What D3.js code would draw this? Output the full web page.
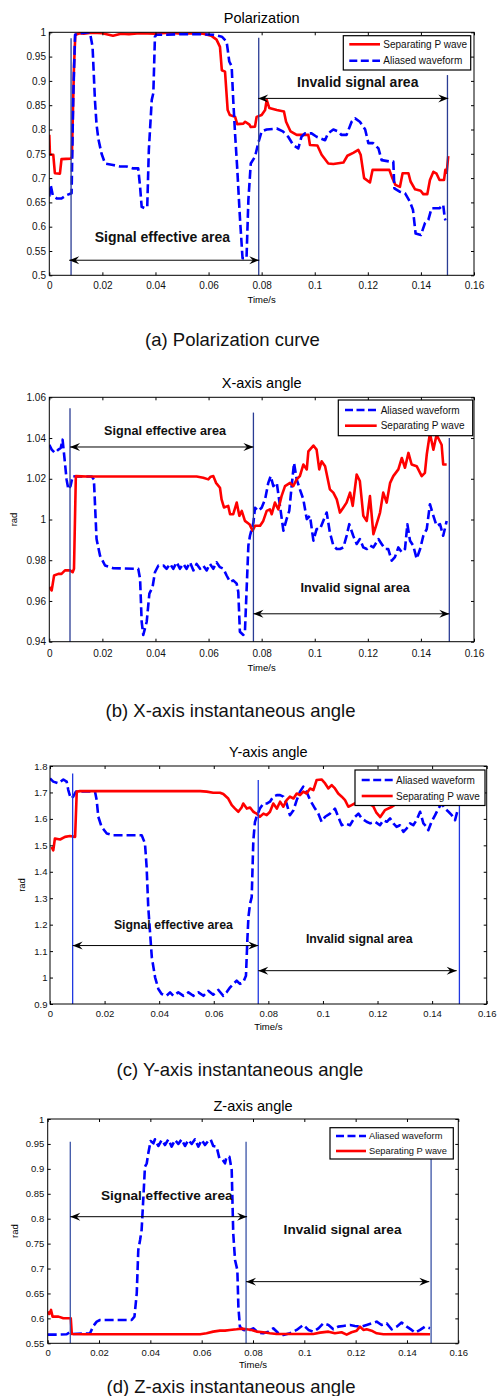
<!DOCTYPE html>
<html>
<head>
<meta charset="utf-8">
<script src="https://cdn.jsdelivr.net/npm/d3@7"></script>
<style>
  body { margin: 0; background: #fff; }
  svg { display: block; font-family: "Liberation Sans", Arial, sans-serif; }
</style>
</head>
<body>
<svg id="chart"></svg>
<script>
// shared tick values
const timeTicks = [0, 0.02, 0.04, 0.06, 0.08, 0.1, 0.12, 0.14, 0.16];
const polTicks = [0.5, 0.55, 0.6, 0.65, 0.7, 0.75, 0.8, 0.85, 0.9, 0.95, 1];
const xAngleTicks = [0.94, 0.96, 0.98, 1, 1.02, 1.04, 1.06];
const yAngleTicks = [0.9, 1, 1.1, 1.2, 1.3, 1.4, 1.5, 1.6, 1.7, 1.8];
const zAngleTicks = [0.55, 0.6, 0.65, 0.7, 0.75, 0.8, 0.85, 0.9, 0.95, 1];

const seriesNames = ["Separating P wave", "Aliased waveform"];

// (a) polarization, [time, value]
const polSeparating = [[0,0.789],[0.00025,0.748],[0.0015,0.748],[0.0021,0.71],[0.004,0.709],[0.0046,0.739],[0.008,0.74],[0.0085,0.744],[0.0093,0.929],[0.0098,0.995],[0.0116,0.998],[0.013,0.997],[0.016,0.999],[0.02,0.998],[0.024,0.993],[0.027,0.997],[0.03,0.996],[0.034,0.998],[0.04,0.997],[0.045,0.999],[0.05,0.997],[0.055,0.998],[0.058,0.997],[0.061,0.993],[0.063,0.985],[0.0643,0.97],[0.065,0.922],[0.0662,0.919],[0.0672,0.84],[0.068,0.83],[0.07,0.826],[0.0708,0.811],[0.0731,0.812],[0.0738,0.816],[0.0754,0.81],[0.0759,0.805],[0.0775,0.806],[0.0781,0.826],[0.08,0.83],[0.0813,0.84],[0.0819,0.861],[0.0829,0.844],[0.0857,0.84],[0.0884,0.837],[0.0892,0.816],[0.0909,0.796],[0.0932,0.789],[0.0976,0.789],[0.0982,0.768],[0.101,0.767],[0.1026,0.748],[0.1051,0.73],[0.107,0.729],[0.1108,0.732],[0.1123,0.746],[0.1145,0.752],[0.1164,0.758],[0.1173,0.748],[0.1186,0.70],[0.1208,0.691],[0.1218,0.717],[0.1281,0.717],[0.1291,0.702],[0.1304,0.686],[0.1321,0.682],[0.1331,0.71],[0.1353,0.71],[0.1361,0.693],[0.1378,0.677],[0.1399,0.674],[0.1409,0.667],[0.1424,0.667],[0.1434,0.696],[0.1447,0.713],[0.1459,0.709],[0.147,0.696],[0.1487,0.696],[0.1492,0.717],[0.1497,0.711],[0.1503,0.745]];
const polAliased = [[0,0.662],[0.0005,0.686],[0.0013,0.665],[0.0028,0.658],[0.0046,0.658],[0.0065,0.665],[0.0084,0.669],[0.009,0.86],[0.0097,0.995],[0.0116,0.998],[0.0153,1.0],[0.0163,0.97],[0.0172,0.86],[0.0178,0.81],[0.0185,0.78],[0.0197,0.75],[0.021,0.73],[0.024,0.727],[0.0266,0.724],[0.029,0.724],[0.0316,0.72],[0.0335,0.72],[0.0342,0.682],[0.0348,0.641],[0.036,0.638],[0.0369,0.641],[0.0375,0.758],[0.0386,0.861],[0.0392,0.875],[0.0398,0.991],[0.0404,0.995],[0.0442,0.995],[0.0492,0.996],[0.0568,0.996],[0.0618,0.995],[0.065,0.991],[0.0668,0.981],[0.0678,0.94],[0.0687,0.93],[0.0693,0.86],[0.07,0.79],[0.0708,0.72],[0.0718,0.62],[0.0728,0.535],[0.0743,0.535],[0.075,0.655],[0.0759,0.73],[0.0775,0.744],[0.0787,0.772],[0.08,0.796],[0.0819,0.8],[0.0857,0.802],[0.088,0.796],[0.09,0.785],[0.0919,0.768],[0.0938,0.761],[0.095,0.785],[0.0963,0.792],[0.0988,0.792],[0.1007,0.785],[0.1039,0.778],[0.105,0.792],[0.107,0.8],[0.1089,0.796],[0.11,0.789],[0.112,0.789],[0.1139,0.816],[0.1152,0.823],[0.117,0.816],[0.119,0.8],[0.1202,0.772],[0.122,0.772],[0.124,0.761],[0.1252,0.737],[0.1284,0.734],[0.1296,0.734],[0.13,0.679],[0.132,0.672],[0.134,0.669],[0.1358,0.652],[0.137,0.635],[0.138,0.586],[0.14,0.583],[0.1415,0.607],[0.1428,0.614],[0.144,0.638],[0.147,0.638],[0.1484,0.645],[0.149,0.617],[0.1493,0.613]];

// (b) X-axis angle
const xSeparating = [[0,0.9668],[0.0009,0.9652],[0.0018,0.9725],[0.0034,0.9733],[0.0046,0.9733],[0.0059,0.975],[0.0078,0.975],[0.0088,0.9741],[0.0093,0.9758],[0.01,1.0213],[0.0141,1.0211],[0.0555,1.0211],[0.058,1.0205],[0.0599,1.0197],[0.0608,1.021],[0.0618,1.0213],[0.0628,1.018],[0.0643,1.0156],[0.0649,1.0099],[0.0658,1.0059],[0.0674,1.0067],[0.0681,1.0026],[0.0693,1.0026],[0.0706,1.0083],[0.0716,1.0018],[0.0725,1.0042],[0.0737,0.9993],[0.0754,0.9977],[0.0766,0.9945],[0.0775,0.9969],[0.0794,0.9969],[0.0806,0.9993],[0.0819,1.0042],[0.0831,1.005],[0.0838,1.0026],[0.085,1.0083],[0.0863,1.005],[0.0875,1.0115],[0.0888,1.0164],[0.0907,1.018],[0.0919,1.0164],[0.0932,1.0197],[0.0944,1.0213],[0.0957,1.027],[0.097,1.0246],[0.0976,1.0335],[0.0995,1.0363],[0.1007,1.0343],[0.1017,1.0246],[0.1026,1.0286],[0.1039,1.0262],[0.1057,1.0148],[0.107,1.0132],[0.1083,1.0099],[0.1095,1.0034],[0.1108,1.0059],[0.112,1.0083],[0.1133,1.0132],[0.1143,1.0067],[0.1158,1.0221],[0.117,1.0189],[0.1183,1.0018],[0.1196,0.9993],[0.1208,1.0115],[0.1221,0.9928],[0.1233,0.9977],[0.1246,1.0034],[0.1258,1.0132],[0.1271,1.0083],[0.1284,1.018],[0.1296,1.0213],[0.1315,1.0246],[0.1328,1.0302],[0.134,1.0254],[0.1353,1.0327],[0.1365,1.027],[0.1384,1.0262],[0.1403,1.0213],[0.1415,1.0229],[0.1422,1.0319],[0.1434,1.0424],[0.1447,1.0343],[0.1459,1.0416],[0.1478,1.0367],[0.1484,1.027],[0.1497,1.027]];
const xAliased = [[0,1.0367],[0.0009,1.0343],[0.0021,1.0327],[0.0034,1.0343],[0.0043,1.0351],[0.005,1.0392],[0.0059,1.0278],[0.0065,1.0197],[0.0072,1.0148],[0.008,1.0164],[0.0088,1.0213],[0.0103,1.0211],[0.016,1.0211],[0.0168,1.0197],[0.0178,0.9904],[0.0191,0.9823],[0.021,0.9774],[0.0241,0.9761],[0.0335,0.9758],[0.0342,0.9709],[0.0348,0.9498],[0.0354,0.9433],[0.0367,0.9498],[0.0377,0.9636],[0.0389,0.9668],[0.0398,0.9741],[0.0411,0.9774],[0.043,0.9774],[0.0442,0.9758],[0.0455,0.9782],[0.0467,0.9758],[0.048,0.979],[0.0492,0.9758],[0.0505,0.9782],[0.0517,0.9758],[0.053,0.979],[0.0543,0.975],[0.0555,0.9782],[0.0568,0.9758],[0.058,0.9774],[0.0593,0.975],[0.0605,0.9782],[0.0618,0.9758],[0.063,0.979],[0.0643,0.9766],[0.0656,0.9758],[0.0668,0.9725],[0.0681,0.9693],[0.0693,0.9701],[0.0706,0.9685],[0.0712,0.9644],[0.0718,0.9449],[0.0731,0.9433],[0.0737,0.9449],[0.075,0.9872],[0.0756,0.992],[0.0769,0.9985],[0.0775,1.0058],[0.0787,1.0042],[0.08,1.0058],[0.0813,1.0099],[0.0825,1.018],[0.0834,1.0213],[0.0844,1.0164],[0.0857,1.018],[0.0869,1.0067],[0.0882,0.9945],[0.0894,1.0002],[0.0904,1.0042],[0.0913,1.0164],[0.0922,1.0278],[0.0932,1.0197],[0.0944,1.0148],[0.0957,1.0099],[0.097,1.0002],[0.0982,1.0018],[0.0995,0.9896],[0.1007,0.9953],[0.102,0.9953],[0.1032,0.9993],[0.1045,1.0034],[0.1057,0.9937],[0.107,0.9872],[0.1083,0.9855],[0.1095,0.9855],[0.1108,0.9863],[0.112,0.992],[0.113,0.9977],[0.1145,0.992],[0.1158,0.988],[0.117,0.9904],[0.1183,0.9863],[0.1196,0.9855],[0.1208,0.9872],[0.1221,0.9863],[0.124,0.9904],[0.1252,0.988],[0.1265,0.9855],[0.1277,0.9855],[0.129,0.9798],[0.1302,0.9815],[0.1315,0.9863],[0.1328,0.9839],[0.134,0.9855],[0.1349,0.9977],[0.1359,0.9896],[0.1371,0.9872],[0.1384,0.9807],[0.1397,0.9855],[0.1409,0.992],[0.1422,0.9953],[0.1434,1.0075],[0.1447,1.0018],[0.1459,0.9969],[0.1472,0.9977],[0.1484,0.992],[0.1497,0.9993]];

// (c) Y-axis angle
const ySeparating = [[0.0006,1.494],[0.0012,1.481],[0.0018,1.526],[0.0037,1.522],[0.0055,1.532],[0.0073,1.535],[0.0092,1.532],[0.0098,1.703],[0.011,1.705],[0.055,1.705],[0.0574,1.703],[0.0598,1.699],[0.0623,1.699],[0.0635,1.694],[0.0653,1.677],[0.0666,1.652],[0.0678,1.639],[0.069,1.627],[0.0702,1.643],[0.0708,1.658],[0.0721,1.639],[0.0733,1.643],[0.0745,1.627],[0.0757,1.62],[0.0769,1.608],[0.0782,1.62],[0.0794,1.614],[0.0806,1.627],[0.0818,1.658],[0.0831,1.639],[0.0843,1.665],[0.0855,1.646],[0.0867,1.671],[0.0879,1.684],[0.0892,1.677],[0.0904,1.696],[0.0916,1.69],[0.0928,1.703],[0.094,1.696],[0.0953,1.715],[0.0965,1.709],[0.0977,1.747],[0.0995,1.749],[0.1008,1.734],[0.102,1.715],[0.1032,1.728],[0.1044,1.715],[0.1056,1.696],[0.1069,1.684],[0.1081,1.671],[0.1093,1.646],[0.1105,1.652],[0.112,1.66],[0.1145,1.667],[0.1165,1.66],[0.1184,1.648],[0.1195,1.625],[0.121,1.607],[0.1227,1.633],[0.1253,1.646],[0.128,1.665],[0.132,1.672],[0.136,1.668],[0.14,1.675],[0.144,1.67],[0.148,1.668],[0.15,1.67]];
const yAliased = [[0,1.753],[0.0012,1.741],[0.0031,1.734],[0.0049,1.749],[0.0061,1.741],[0.0067,1.709],[0.0076,1.677],[0.0085,1.684],[0.0095,1.703],[0.011,1.704],[0.0159,1.704],[0.0165,1.703],[0.0171,1.671],[0.0177,1.608],[0.0189,1.57],[0.0208,1.545],[0.0232,1.538],[0.0336,1.538],[0.0348,1.507],[0.0354,1.418],[0.036,1.266],[0.0373,1.077],[0.0385,1.001],[0.0397,0.957],[0.0409,0.938],[0.0427,0.931],[0.044,0.944],[0.0452,0.931],[0.047,0.944],[0.0489,0.931],[0.0507,0.944],[0.0525,0.931],[0.0544,0.944],[0.0562,0.931],[0.058,0.95],[0.0598,0.935],[0.0617,0.953],[0.0635,0.931],[0.0647,0.944],[0.066,0.963],[0.0672,0.976],[0.0684,0.988],[0.0696,0.976],[0.0708,0.982],[0.0718,1.007],[0.0723,1.14],[0.0727,1.229],[0.0733,1.279],[0.0739,1.304],[0.0745,1.519],[0.0751,1.589],[0.0757,1.608],[0.0769,1.639],[0.0782,1.658],[0.0794,1.658],[0.0806,1.665],[0.0818,1.684],[0.0831,1.69],[0.0843,1.69],[0.0855,1.684],[0.0867,1.658],[0.0879,1.614],[0.0892,1.633],[0.0904,1.671],[0.0916,1.703],[0.0928,1.722],[0.094,1.703],[0.0953,1.671],[0.0971,1.639],[0.0983,1.62],[0.0995,1.589],[0.1008,1.608],[0.1026,1.62],[0.1044,1.639],[0.1056,1.608],[0.1069,1.576],[0.1081,1.583],[0.1099,1.576],[0.1118,1.608],[0.113,1.62],[0.1142,1.602],[0.116,1.589],[0.1173,1.583],[0.1191,1.589],[0.1209,1.576],[0.1221,1.595],[0.1234,1.589],[0.1246,1.602],[0.1258,1.583],[0.127,1.57],[0.1282,1.576],[0.1295,1.551],[0.1307,1.564],[0.1319,1.583],[0.1331,1.576],[0.1343,1.595],[0.1356,1.627],[0.1368,1.583],[0.138,1.57],[0.1386,1.557],[0.1398,1.589],[0.1411,1.614],[0.1423,1.639],[0.1435,1.658],[0.1447,1.639],[0.146,1.627],[0.1472,1.614],[0.1484,1.595],[0.1492,1.627]];

// (d) Z-axis angle
const zSeparating = [[0,0.6135],[0.0006,0.6089],[0.0013,0.6169],[0.0019,0.6035],[0.0042,0.6035],[0.0061,0.6002],[0.0081,0.6002],[0.009,0.6002],[0.0094,0.5687],[0.0139,0.5681],[0.0594,0.5681],[0.0619,0.5701],[0.0645,0.5734],[0.0671,0.5754],[0.0691,0.5754],[0.071,0.5768],[0.0736,0.5781],[0.0756,0.5794],[0.0775,0.5781],[0.0795,0.5768],[0.0814,0.5734],[0.084,0.5721],[0.0866,0.5701],[0.0892,0.5687],[0.0983,0.5687],[0.1035,0.5687],[0.1061,0.5714],[0.1094,0.5734],[0.1119,0.5701],[0.1145,0.5721],[0.1165,0.5674],[0.1184,0.5721],[0.1204,0.5754],[0.1217,0.5834],[0.123,0.5768],[0.1243,0.5781],[0.1262,0.5754],[0.1282,0.5701],[0.1308,0.5681],[0.1425,0.5687],[0.149,0.5681]];
const zAliased = [[0,0.5674],[0.0042,0.5674],[0.0074,0.5681],[0.0084,0.5714],[0.0094,0.5687],[0.0165,0.5701],[0.0178,0.5848],[0.0191,0.5935],[0.0204,0.5968],[0.0269,0.5968],[0.0327,0.5968],[0.0338,0.6035],[0.0347,0.6503],[0.0353,0.7372],[0.036,0.7573],[0.0366,0.7773],[0.0373,0.8442],[0.0379,0.9044],[0.0386,0.9111],[0.0392,0.9311],[0.0401,0.9559],[0.0412,0.9512],[0.0418,0.9592],[0.0431,0.9458],[0.0444,0.9579],[0.0457,0.9478],[0.047,0.9592],[0.0483,0.9445],[0.0496,0.9579],[0.0509,0.9499],[0.0522,0.9592],[0.0535,0.9458],[0.0548,0.9579],[0.0561,0.9499],[0.0574,0.9592],[0.0587,0.9445],[0.06,0.9579],[0.0613,0.9478],[0.0626,0.9565],[0.0635,0.9592],[0.0645,0.9458],[0.0658,0.9445],[0.0669,0.9211],[0.0682,0.9178],[0.0691,0.9111],[0.0697,0.9244],[0.0708,0.9244],[0.0717,0.8977],[0.0723,0.7707],[0.073,0.7172],[0.0739,0.6971],[0.0743,0.6236],[0.0749,0.5834],[0.0762,0.5768],[0.0782,0.5754],[0.0801,0.5801],[0.0821,0.5714],[0.084,0.5701],[0.086,0.5734],[0.0879,0.5801],[0.0899,0.5701],[0.0918,0.5667],[0.0944,0.5701],[0.097,0.5768],[0.0996,0.5868],[0.1016,0.5768],[0.1035,0.5734],[0.1055,0.5801],[0.1074,0.5901],[0.1094,0.5868],[0.1113,0.5781],[0.1132,0.5834],[0.1152,0.5848],[0.1178,0.5868],[0.1197,0.5848],[0.1223,0.5834],[0.1243,0.5868],[0.1262,0.5901],[0.1282,0.5935],[0.1301,0.5868],[0.1321,0.5901],[0.134,0.5781],[0.136,0.5834],[0.1379,0.5915],[0.1399,0.5834],[0.1418,0.5768],[0.1431,0.5714],[0.1451,0.5768],[0.147,0.5834],[0.149,0.5801]];

// area boundaries [time, top of line]
const polBounds = [[0.0082, 0.988], [0.0789, 0.989], [0.15, 0.912]];
const xBounds = [[0.0078, 1.0546], [0.0769, 1.0525], [0.1507, 1.04]];
const yBounds = [[0.0083, 1.772], [0.0763, 1.747], [0.15, 1.658]];
const zBounds = [[0.0088, 0.9545], [0.0773, 0.9545], [0.1494, 0.921]];

const RED = "#ff0000", BLUE = "#0000ff";

const svg = d3.select("#chart")
  .attr("width", 497)
  .attr("height", 1396);
svg.append("rect").attr("width", 497).attr("height", 1396).attr("fill", "#fff");

const defs = svg.append("defs");
defs.append("marker")
    .attr("id", "head")
    .attr("viewBox", "-11 -5 11 10")
    .attr("refX", 0)
    .attr("refY", 0)
    .attr("markerUnits", "userSpaceOnUse")
    .attr("markerWidth", 11)
    .attr("markerHeight", 10)
    .attr("orient", "auto-start-reverse")
  .append("path")
    .attr("d", "M0,0 L-10,-4 L-6.5,0 L-10,4 Z")
    .attr("fill", "#000");

const panels = [
  {
    key: "a", left: 49.3, right: 474, top: 32.3, bottom: 275.3,
    yDomain: [0.5, 1], yTicks: polTicks, tickFont: 10, xPad: 6.4, yPad: 3.3,
    title: "Polarization", titleY: 23, xLabelY: 303, yLabelX: null,
    caption: "(a) Polarization curve", captionX: 232.5, captionY: 346,
    bounds: polBounds, boundColor: "#2a3c94",
    series: [
      { name: seriesNames[0], data: polSeparating, color: RED, dash: false },
      { name: seriesNames[1], data: polAliased, color: BLUE, dash: true }
    ],
    legendOrder: [0, 1],
    legend: { x: 343.3, y: 35.7, w: 127.4, h: 34.3, rows: [44.3, 60.7], x1: 349.3, x2: 380, tx: 383.3, font: 10 },
    arrows: [
      { x1: 0.0075, x2: 0.0791, y: 0.531, text: "Signal effective area", tx: 0.0426, ty: 0.5795, font: 14 },
      { x1: 0.0787, x2: 0.1503, y: 0.864, text: "Invalid signal area", tx: 0.1162, ty: 0.8985, font: 14 }
    ]
  },
  {
    key: "b", left: 49.3, right: 474, top: 397.3, bottom: 641.7,
    yDomain: [0.94, 1.06], yTicks: xAngleTicks, tickFont: 10, xPad: 8, yPad: 3.3,
    title: "X-axis angle", titleY: 387.7, xLabelY: 670.5, yLabelX: 17,
    caption: "(b) X-axis instantaneous angle", captionX: 230.5, captionY: 717,
    bounds: xBounds, boundColor: "#2a3c94",
    series: [
      { name: seriesNames[1], data: xAliased, color: BLUE, dash: true },
      { name: seriesNames[0], data: xSeparating, color: RED, dash: false }
    ],
    legendOrder: [0, 1],
    legend: { x: 338.3, y: 400, w: 134.4, h: 35.7, rows: [410, 425.7], x1: 345, x2: 376.7, tx: 380.7, font: 10 },
    arrows: [
      { x1: 0.0078, x2: 0.0769, y: 1.0356, text: "Signal effective area", tx: 0.0436, ty: 1.0433, font: 12.6 },
      { x1: 0.0769, x2: 0.1507, y: 0.9537, text: "Invalid signal area", tx: 0.1152, ty: 0.9663, font: 12.6 }
    ]
  },
  {
    key: "c", left: 50, right: 486.7, top: 766, bottom: 1004,
    yDomain: [0.9, 1.8], yTicks: yAngleTicks, tickFont: 9.5, xPad: 6, yPad: 2.5,
    title: "Y-axis angle", titleY: 756.7, xLabelY: 1030, yLabelX: 24.5,
    caption: "(c) Y-axis instantaneous angle", captionX: 240, captionY: 1076,
    bounds: yBounds, boundColor: "#2038e0",
    series: [
      { name: seriesNames[1], data: yAliased, color: BLUE, dash: true },
      { name: seriesNames[0], data: ySeparating, color: RED, dash: false }
    ],
    legendOrder: [0, 1],
    legend: { x: 355, y: 770, w: 130, h: 35.5, rows: [780, 796], x1: 361.7, x2: 392.7, tx: 396, font: 10 },
    arrows: [
      { x1: 0.0083, x2: 0.0763, y: 1.121, text: "Signal effective area", tx: 0.0452, ty: 1.197, font: 12.3 },
      { x1: 0.0763, x2: 0.149, y: 1.026, text: "Invalid signal area", tx: 0.1133, ty: 1.145, font: 12.3 }
    ]
  },
  {
    key: "d", left: 47.7, right: 458.3, top: 1119, bottom: 1343.3,
    yDomain: [0.55, 1], yTicks: zAngleTicks, tickFont: 9.5, xPad: 5.7, yPad: 3.4,
    title: "Z-axis angle", titleY: 1110.7, xLabelY: 1368, yLabelX: 18,
    caption: "(d) Z-axis instantaneous angle", captionX: 231, captionY: 1393,
    bounds: zBounds, boundColor: "#3a53a6",
    series: [
      { name: seriesNames[1], data: zAliased, color: BLUE, dash: true },
      { name: seriesNames[0], data: zSeparating, color: RED, dash: false }
    ],
    legendOrder: [0, 1],
    legend: { x: 330, y: 1127.7, w: 123.3, h: 31.3, rows: [1136, 1151], x1: 336, x2: 366, tx: 369, font: 9.3 },
    arrows: [
      { x1: 0.0088, x2: 0.0777, y: 0.804, text: "Signal effective area", tx: 0.0464, ty: 0.8462, font: 13.6 },
      { x1: 0.0773, x2: 0.1487, y: 0.6737, text: "Invalid signal area", tx: 0.1149, ty: 0.7787, font: 13.6 }
    ]
  }
];

const drawPanel = (p) => {
  const xScale = d3.scaleLinear().domain([0, 0.16]).range([p.left, p.right]);
  const yScale = d3.scaleLinear().domain(p.yDomain).range([p.bottom, p.top]);
  const width = p.right - p.left;
  const height = p.bottom - p.top;

  defs.append("clipPath")
      .attr("id", `clip-${p.key}`)
    .append("rect")
      .attr("x", p.left)
      .attr("y", p.top)
      .attr("width", width)
      .attr("height", height);

  const panel = svg.append("g").attr("class", `panel panel-${p.key}`);

  // curves
  const line = d3.line()
    .x(d => xScale(d[0]))
    .y(d => yScale(d[1]));
  panel.append("g")
      .attr("clip-path", `url(#clip-${p.key})`)
    .selectAll("path")
    .data(p.series)
    .join("path")
      .attr("d", d => line(d.data))
      .attr("fill", "none")
      .attr("stroke", d => d.color)
      .attr("stroke-width", 2.6)
      .attr("stroke-linejoin", "round")
      .attr("stroke-dasharray", d => d.dash ? "9,4" : null);

  // area boundaries
  panel.append("g")
    .selectAll("line")
    .data(p.bounds)
    .join("line")
      .attr("x1", d => xScale(d[0]))
      .attr("x2", d => xScale(d[0]))
      .attr("y1", d => yScale(d[1]))
      .attr("y2", p.bottom)
      .attr("stroke", p.boundColor)
      .attr("stroke-width", 1.3);

  // double arrows + labels
  const notes = panel.append("g");
  notes.selectAll("line")
    .data(p.arrows)
    .join("line")
      .attr("x1", d => xScale(d.x1))
      .attr("x2", d => xScale(d.x2))
      .attr("y1", d => yScale(d.y))
      .attr("y2", d => yScale(d.y))
      .attr("stroke", "#000")
      .attr("stroke-width", 1)
      .attr("marker-start", "url(#head)")
      .attr("marker-end", "url(#head)");
  notes.selectAll("text")
    .data(p.arrows)
    .join("text")
      .attr("x", d => xScale(d.tx))
      .attr("y", d => yScale(d.ty))
      .attr("text-anchor", "middle")
      .attr("dominant-baseline", "central")
      .attr("font-weight", "bold")
      .attr("font-size", d => d.font)
      .attr("fill", "#111")
      .text(d => d.text);

  // box + inward ticks on all four sides
  panel.append("rect")
      .attr("x", p.left)
      .attr("y", p.top)
      .attr("width", width)
      .attr("height", height)
      .attr("fill", "none")
      .attr("stroke", "#000")
      .attr("stroke-width", 1);

  const bottomAxis = d3.axisBottom(xScale)
    .tickValues(timeTicks)
    .tickFormat(d => String(d))
    .tickSize(-3)
    .tickSizeOuter(0)
    .tickPadding(p.xPad);
  const leftAxis = d3.axisLeft(yScale)
    .tickValues(p.yTicks)
    .tickFormat(d => String(d))
    .tickSize(-3)
    .tickSizeOuter(0)
    .tickPadding(p.yPad);
  const topAxis = d3.axisTop(xScale)
    .tickValues(timeTicks)
    .tickFormat("")
    .tickSize(-3)
    .tickSizeOuter(0);
  const rightAxis = d3.axisRight(yScale)
    .tickValues(p.yTicks)
    .tickFormat("")
    .tickSize(-3)
    .tickSizeOuter(0);

  const axes = [
    [bottomAxis, `translate(0, ${p.bottom})`],
    [leftAxis, `translate(${p.left}, 0)`],
    [topAxis, `translate(0, ${p.top})`],
    [rightAxis, `translate(${p.right}, 0)`]
  ];
  axes.forEach(([axis, tr]) => {
    const a = panel.append("g")
        .attr("transform", tr)
        .call(axis);
    a.select(".domain").remove();
    a.attr("font-family", null)
      .attr("font-size", p.tickFont);
    a.selectAll(".tick line").attr("stroke", "#000");
    a.selectAll(".tick text").attr("fill", "#111");
  });

  // titles and labels
  panel.append("text")
      .attr("x", (p.left + p.right) / 2)
      .attr("y", p.titleY)
      .attr("text-anchor", "middle")
      .attr("font-size", 14.5)
      .text(p.title);
  panel.append("text")
      .attr("x", (p.left + p.right) / 2)
      .attr("y", p.xLabelY)
      .attr("text-anchor", "middle")
      .attr("font-size", 9.5)
      .text("Time/s");
  if (p.yLabelX !== null) {
    panel.append("text")
        .attr("transform", `translate(${p.yLabelX}, ${(p.top + p.bottom) / 2}) rotate(-90)`)
        .attr("text-anchor", "middle")
        .attr("font-size", 9.5)
        .text("rad");
  }
  panel.append("text")
      .attr("x", p.captionX)
      .attr("y", p.captionY)
      .attr("text-anchor", "middle")
      .attr("font-size", 18.5)
      .attr("fill", "#111")
      .text(p.caption);

  // legend
  const L = p.legend;
  const legend = panel.append("g").attr("class", "legend");
  legend.append("rect")
      .attr("x", L.x)
      .attr("y", L.y)
      .attr("width", L.w)
      .attr("height", L.h)
      .attr("fill", "#fff")
      .attr("stroke", "#000")
      .attr("stroke-width", 1.2);
  const rows = legend.selectAll("g.row")
    .data(p.legendOrder.map(i => p.series[i]))
    .join("g")
      .attr("class", "row")
      .attr("transform", (d, i) => `translate(0, ${L.rows[i]})`);
  rows.append("line")
      .attr("x1", L.x1)
      .attr("x2", L.x2)
      .attr("stroke", d => d.color)
      .attr("stroke-width", 2.6)
      .attr("stroke-dasharray", d => d.dash ? "8,3.5" : null);
  rows.append("text")
      .attr("x", L.tx)
      .attr("dominant-baseline", "central")
      .attr("font-size", L.font)
      .attr("fill", "#111")
      .text(d => d.name);
};

panels.forEach(drawPanel);
</script>
</body>
</html>
